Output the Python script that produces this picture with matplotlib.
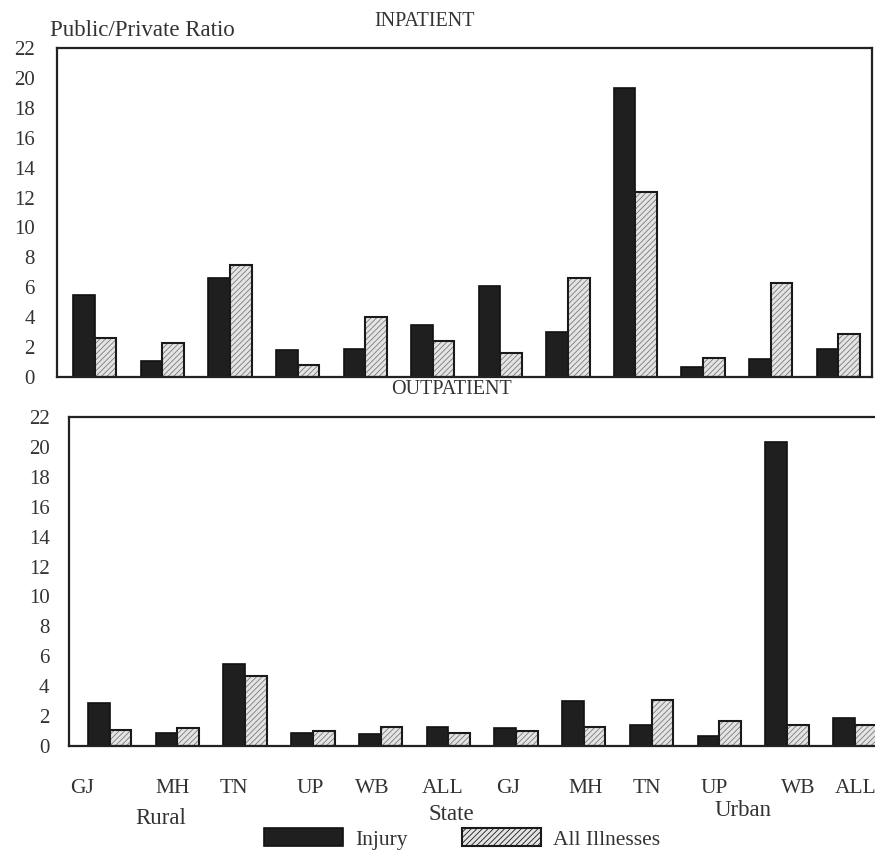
import matplotlib
matplotlib.use("Agg")
import matplotlib.pyplot as plt
import matplotlib.transforms as mtransforms
from matplotlib.patches import Patch
import numpy as np

plt.rcParams['font.family'] = ['Liberation Serif', 'DejaVu Serif']
plt.rcParams['hatch.linewidth'] = 0.6

states = ["GJ", "MH", "TN", "UP", "WB", "ALL", "GJ", "MH", "TN", "UP", "WB", "ALL"]
groups = ["Rural", "State", "Urban"]

inpatient_injury = [5.5, 1.1, 6.6, 1.8, 1.9, 3.5, 6.1, 3.0, 19.3, 0.7, 1.2, 1.9]
inpatient_all = [2.6, 2.3, 7.5, 0.8, 4.0, 2.4, 1.6, 6.6, 12.4, 1.3, 6.3, 2.9]
outpatient_injury = [2.9, 0.9, 5.5, 0.9, 0.8, 1.3, 1.2, 3.0, 1.4, 0.7, 20.3, 1.9]
outpatient_all = [1.1, 1.2, 4.7, 1.0, 1.3, 0.9, 1.0, 1.3, 3.1, 1.7, 1.4, 1.4]

yticks = list(range(0, 23, 2))

txt = '#333333'
dark = '#1f1f1f'
light = '#e4e4e4'

fig = plt.figure(figsize=(8.75, 8.51), dpi=100)
W, H = 875, 851

def ax_at(x0, y0, x1, y1):
    return fig.add_axes([x0 / W, 1 - y1 / H, (x1 - x0) / W, (y1 - y0) / H])

ax1 = ax_at(57, 48, 872, 377)
ax2 = ax_at(69, 417, 890, 746)

x = np.arange(len(states))
bw = 0.32

def draw(ax, inj, alli, xl, pad):
    ax.bar(x - bw / 2, inj, bw, color=dark, edgecolor='#111111', linewidth=1.2)
    ax.bar(x + bw / 2, alli, bw, color=light, edgecolor='#7a7a7a', hatch='//////', linewidth=0)
    ax.bar(x + bw / 2, alli, bw, fill=False, edgecolor='#1a1a1a', linewidth=1.5)
    ax.set_ylim(0, 22)
    ax.set_xlim(*xl)
    ax.set_yticks(yticks)
    ax.set_yticklabels([str(v) for v in yticks], fontsize=15, color=txt)
    ax.tick_params(axis='y', length=0, pad=pad)
    for s in ax.spines.values():
        s.set_linewidth(1.6)
        s.set_color('#222222')

draw(ax1, inpatient_injury, inpatient_all, (-0.56, 11.5), 16)
ax1.set_xticks([])

draw(ax2, outpatient_injury, outpatient_all, (-0.6, 11.52), 14)
ax2.spines['right'].set_visible(False)

# small horizontal nudges of the state labels, as in the original print
label_shift = np.array([-0.4, -0.07, -0.16, -0.04, -0.12, -0.09, -0.12, 0.03, -0.07, -0.07, 0.16, 0.01])
ax2.set_xticks(x + label_shift)
ax2.set_xticklabels(states, fontsize=15.5, color=txt)
ax2.tick_params(axis='x', length=0, pad=24)

fig.text(50 / W, 1 - 31 / H, "Public/Private Ratio", fontsize=16.5, color=txt, va='center', ha='left')
fig.text(425 / W, 1 - 22 / H, "INPATIENT", fontsize=14.5, color=txt, va='center', ha='center')
fig.text(452 / W, 1 - 390 / H, "OUTPATIENT", fontsize=14.5, color=txt, va='center', ha='center')

trans = mtransforms.blended_transform_factory(ax2.transData, fig.transFigure)
group_x = [0.75, 5.05, 9.35]
group_y = [818, 815, 811]
for gx, gy, g in zip(group_x, group_y, groups):
    ax2.text(gx, 1 - gy / H, g, transform=trans, fontsize=16.5, color=txt, ha='center', va='center')

handles = [Patch(facecolor=dark, edgecolor='#111111', linewidth=1.2, label='Injury'),
           Patch(facecolor=light, edgecolor='#1a1a1a', hatch='//////', linewidth=1.5, label='All Illnesses')]
fig.legend(handles=handles, loc='center', bbox_to_anchor=(462 / W, 1 - 839 / H), ncol=2,
           frameon=False, handlelength=3.7, handleheight=0.9, columnspacing=2.5,
           handletextpad=0.55, fontsize=15.5, labelcolor=txt)

fig.savefig("out.png", dpi=100, facecolor='white')
